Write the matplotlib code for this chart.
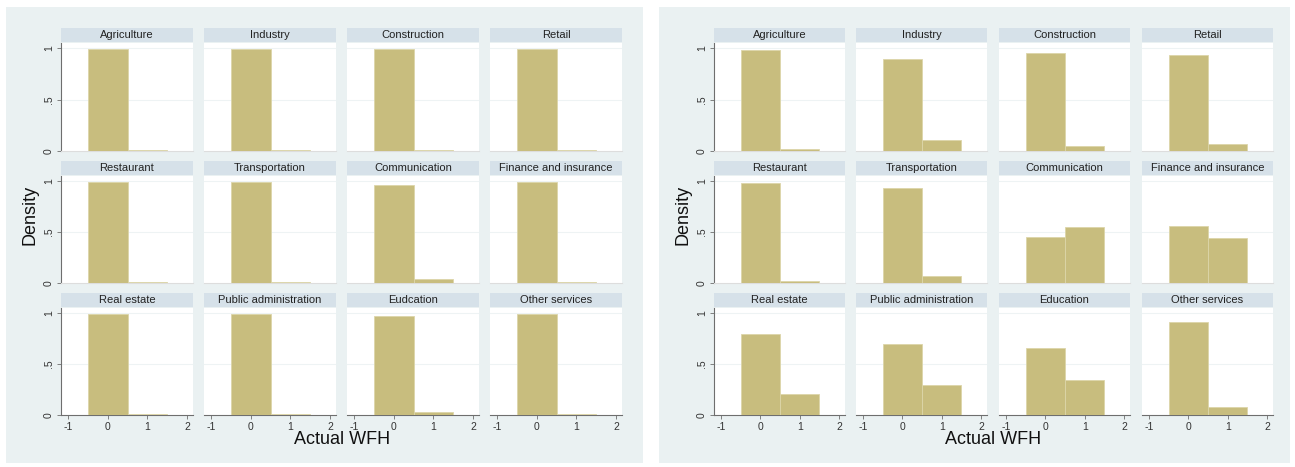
import numpy as np
import matplotlib.pyplot as plt
from matplotlib.patches import Rectangle

plt.rcParams['font.family'] = ['Liberation Sans', 'DejaVu Sans']

sectors_left = ['Agriculture', 'Industry', 'Construction', 'Retail',
                'Restaurant', 'Transportation', 'Communication', 'Finance and insurance',
                'Real estate', 'Public administration', 'Eudcation', 'Other services']
sectors_right = ['Agriculture', 'Industry', 'Construction', 'Retail',
                 'Restaurant', 'Transportation', 'Communication', 'Finance and insurance',
                 'Real estate', 'Public administration', 'Education', 'Other services']
wfh_values = [0, 1]
# density at WFH=0 and WFH=1, per sector
dens_left = [[0.99, 0.01], [0.99, 0.01], [0.99, 0.01], [0.99, 0.01],
             [0.99, 0.01], [0.99, 0.01], [0.965, 0.035], [0.99, 0.01],
             [0.995, 0.005], [0.995, 0.005], [0.975, 0.025], [0.995, 0.005]]
dens_right = [[0.98, 0.02], [0.89, 0.11], [0.95, 0.05], [0.93, 0.07],
              [0.985, 0.015], [0.93, 0.065], [0.45, 0.55], [0.56, 0.44],
              [0.79, 0.205], [0.70, 0.295], [0.655, 0.345], [0.91, 0.08]]
yticks = [0, 0.5, 1]
ytick_labels = ['0', '.5', '1']
xticks = [-1, 0, 1, 2]

W, H = 1295, 467
fig = plt.figure(figsize=(W / 100, H / 100), dpi=100)
fig.patch.set_facecolor('white')

bg = '#EAF1F2'
strip = '#D6E1E9'
bar_c = '#C8BD7E'
axc = '#6E6E6E'


def fx(px):
    return px / W


def fy(py):
    return 1 - py / H


panels = [
    dict(x0=6, x1=643, cols=[61, 204, 347, 490], cw=132, names=sectors_left, dens=dens_left,
         ylab_x=30, xlab_x=342),
    dict(x0=659, x1=1290, cols=[714, 856, 999, 1142], cw=131, names=sectors_right, dens=dens_right,
         ylab_x=683, xlab_x=993),
]
rows = [(43, 151), (176, 283), (308, 415)]

for p in panels:
    fig.patches.append(Rectangle((fx(p['x0']), fy(463)), fx(p['x1'] - p['x0']), (463 - 7) / H,
                                 transform=fig.transFigure, facecolor=bg, edgecolor='none', zorder=-5))
    for i, name in enumerate(p['names']):
        r, c = divmod(i, 4)
        top, bot = rows[r]
        left = p['cols'][c]
        ax = fig.add_axes([fx(left), fy(bot), fx(p['cw']), (bot - top) / H])
        ax.set_zorder(2)
        ax.set_facecolor('white')
        ax.bar(wfh_values, p['dens'][i], width=1, color=bar_c, edgecolor='#DCD5A9', linewidth=0.6, zorder=3)
        ax.set_xlim(-1.18, 2.15)
        ax.set_ylim(0, 1.05)
        for g in [0.5, 1]:
            ax.axhline(g, color='#EEF3F4', lw=0.8, zorder=1)
        for s in ['top', 'right']:
            ax.spines[s].set_visible(False)
        for s in ['left', 'bottom']:
            ax.spines[s].set_color(axc)
            ax.spines[s].set_linewidth(0.8)
        ax.set_yticks(yticks)
        ax.set_yticklabels(ytick_labels, rotation=90, va='center', fontsize=7.5, color='#333333')
        ax.tick_params(axis='both', length=3, width=0.6, color=axc, pad=2)
        if c > 0:
            ax.spines['left'].set_visible(False)
            ax.tick_params(axis='y', left=False, labelleft=False)
        if r == 2:
            ax.set_xticks(xticks)
            ax.set_xticklabels([str(v) for v in xticks], fontsize=7.5, color='#333333')
        else:
            ax.set_xticks([])
            ax.spines['bottom'].set_color('#DDDDDD')
        # strip title
        sh = 14 / (bot - top)
        ax.add_patch(Rectangle((0, 1.01), 1, sh, transform=ax.transAxes, facecolor=strip,
                               edgecolor='none', clip_on=False))
        ax.text(0.5, 1.01 + sh / 2, name, transform=ax.transAxes, ha='center', va='center',
                fontsize=8, color='#222222')
    fig.text(fx(p['ylab_x']), fy(215), 'Density', rotation=90, ha='center', va='center',
             fontsize=13, color='#111111')
    fig.text(fx(p['xlab_x']), fy(440), 'Actual WFH', ha='center', va='center',
             fontsize=13, color='#111111')

fig.savefig('out.png', dpi=100, facecolor=fig.get_facecolor())
